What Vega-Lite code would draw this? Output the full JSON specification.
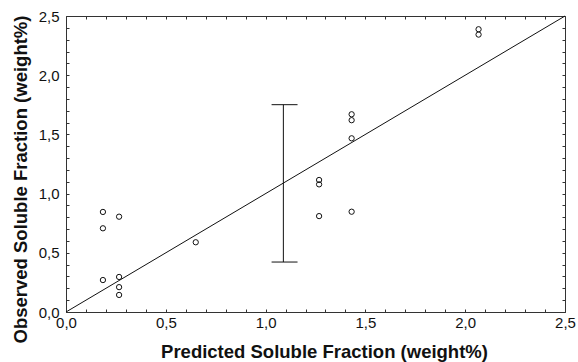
{
  "$schema": "https://vega.github.io/schema/vega-lite/v6.json",
  "width": 499,
  "height": 296,
  "autosize": "none",
  "padding": {"left": 66, "top": 16, "right": 13, "bottom": 50},
  "background": "white",
  "config": {
    "view": {"stroke": null},
    "font": "Liberation Sans",
    "axis": {
      "domainColor": "#333",
      "domainWidth": 1,
      "tickColor": "#333",
      "tickSize": -3,
      "grid": false,
      "labelFont": "Liberation Sans",
      "labelFontSize": 15,
      "labelColor": "#111",
      "titleFont": "Liberation Sans",
      "titleFontSize": 18.5,
      "titleFontWeight": "bold",
      "titleColor": "#111"
    }
  },
  "datasets": {
    "pts": [
      {"pred": 0.185, "obs": 0.845},
      {"pred": 0.185, "obs": 0.707},
      {"pred": 0.185, "obs": 0.27},
      {"pred": 0.266, "obs": 0.805},
      {"pred": 0.266, "obs": 0.296},
      {"pred": 0.266, "obs": 0.21},
      {"pred": 0.266, "obs": 0.144},
      {"pred": 0.65, "obs": 0.589},
      {"pred": 1.268, "obs": 1.115},
      {"pred": 1.268, "obs": 1.078},
      {"pred": 1.268, "obs": 0.81},
      {"pred": 1.431, "obs": 1.67},
      {"pred": 1.431, "obs": 1.62},
      {"pred": 1.431, "obs": 1.467},
      {"pred": 1.431, "obs": 0.847},
      {"pred": 2.067, "obs": 2.388},
      {"pred": 2.067, "obs": 2.343}
    ],
    "diag": [{"x": 0, "y": 0, "x2": 2.5, "y2": 2.5}],
    "ebar": [{"x": 1.089, "y": 0.422, "y2": 1.751}],
    "caps": [
      {"x": 1.03, "x2": 1.16, "y": 1.751},
      {"x": 1.03, "x2": 1.16, "y": 0.422}
    ]
  },
  "layer": [
    {
      "data": {"name": "diag"},
      "mark": {"type": "rule", "color": "#111", "strokeWidth": 1},
      "encoding": {
        "x": {
          "field": "x", "type": "quantitative",
          "scale": {"domain": [0, 2.5], "nice": false, "zero": false},
          "axis": {
            "orient": "bottom",
            "values": [0,0.1,0.2,0.3,0.4,0.5,0.6,0.7,0.8,0.9,1,1.1,1.2,1.3,1.4,1.5,1.6,1.7,1.8,1.9,2,2.1,2.2,2.3,2.4,2.5],
            "labelExpr": "abs(datum.value*2 - round(datum.value*2)) < 0.001 ? replace(format(datum.value, '.1f'), '.', ',') : ''",
            "labelPadding": 6,
            "labelFlush": false,
            "labelOverlap": false,
            "title": "Predicted Soluble Fraction (weight%)",
            "titleX": 258,
            "titleY": 45.5,
            "titleAlign": "center",
            "titleBaseline": "alphabetic"
          }
        },
        "y": {
          "field": "y", "type": "quantitative",
          "scale": {"domain": [0, 2.5], "nice": false, "zero": false},
          "axis": {
            "orient": "left",
            "values": [0,0.1,0.2,0.3,0.4,0.5,0.6,0.7,0.8,0.9,1,1.1,1.2,1.3,1.4,1.5,1.6,1.7,1.8,1.9,2,2.1,2.2,2.3,2.4,2.5],
            "labelExpr": "abs(datum.value*2 - round(datum.value*2)) < 0.001 ? replace(format(datum.value, '.1f'), '.', ',') : ''",
            "labelPadding": 10,
            "labelFlush": false,
            "labelOverlap": false,
            "title": "Observed Soluble Fraction (weight%)",
            "titleX": -40,
            "titleY": 163,
            "titleAngle": -90,
            "titleAlign": "center",
            "titleBaseline": "alphabetic"
          }
        },
        "x2": {"field": "x2"},
        "y2": {"field": "y2"}
      }
    },
    {
      "data": {"name": "ebar"},
      "mark": {"type": "rule", "color": "#111", "strokeWidth": 1},
      "encoding": {
        "x": {
          "field": "x", "type": "quantitative",
          "axis": {
            "orient": "top",
            "values": [0,0.1,0.2,0.3,0.4,0.5,0.6,0.7,0.8,0.9,1,1.1,1.2,1.3,1.4,1.5,1.6,1.7,1.8,1.9,2,2.1,2.2,2.3,2.4,2.5],
            "labels": false,
            "title": null
          }
        },
        "y": {
          "field": "y", "type": "quantitative",
          "axis": {
            "orient": "right",
            "values": [0,0.1,0.2,0.3,0.4,0.5,0.6,0.7,0.8,0.9,1,1.1,1.2,1.3,1.4,1.5,1.6,1.7,1.8,1.9,2,2.1,2.2,2.3,2.4,2.5],
            "labels": false,
            "title": null
          }
        },
        "y2": {"field": "y2"}
      }
    },
    {
      "data": {"name": "caps"},
      "mark": {"type": "rule", "color": "#111", "strokeWidth": 1},
      "encoding": {
        "x": {"field": "x", "type": "quantitative", "axis": null},
        "x2": {"field": "x2"},
        "y": {"field": "y", "type": "quantitative", "axis": null}
      }
    },
    {
      "data": {"name": "pts"},
      "mark": {"type": "point", "shape": "circle", "filled": false, "color": "#111", "strokeWidth": 1, "size": 28, "opacity": 1},
      "encoding": {
        "x": {"field": "pred", "type": "quantitative", "axis": null},
        "y": {"field": "obs", "type": "quantitative", "axis": null}
      }
    }
  ],
  "resolve": {"axis": {"x": "independent", "y": "independent"}}
}
